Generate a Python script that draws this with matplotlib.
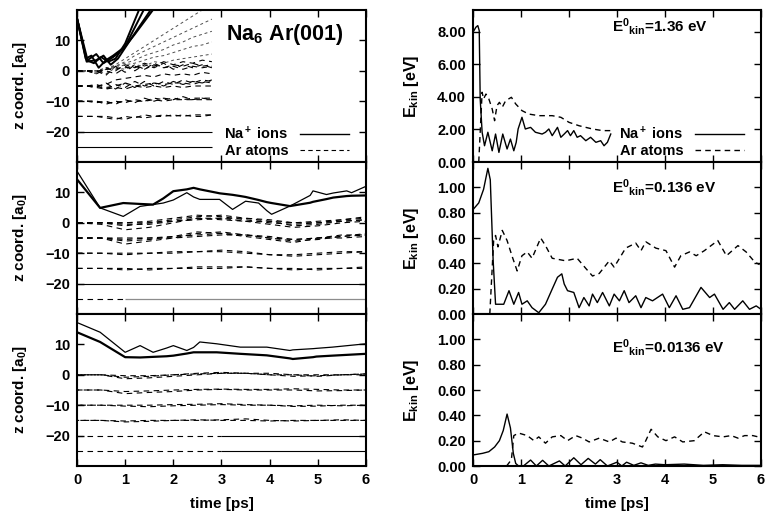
import matplotlib.pyplot as plt

plt.rcParams['font.family'] = ['Liberation Sans', 'DejaVu Sans']
plt.rcParams['font.weight'] = 'bold'
plt.rcParams['font.size'] = 10
plt.rcParams['mathtext.fontset'] = 'custom'
plt.rcParams['mathtext.rm'] = 'Liberation Sans:bold'
plt.rcParams['mathtext.it'] = 'Liberation Sans:bold'
plt.rcParams['mathtext.bf'] = 'Liberation Sans:bold'

# ---------------- z trajectories (left column) ----------------
# E0 = 1.36 eV run, ends at 2.8 ps
t_fast = [0.0, 0.2, 0.4, 0.6, 0.8, 1.0, 1.2, 1.4, 1.6, 1.8, 2.0, 2.2, 2.4, 2.6, 2.8]
na_fast = [
    ([0.0, 0.2, 0.35, 0.5, 0.65, 0.8, 1.0, 1.3], [17.3, 3.5, 2.5, 4.5, 3.0, 4.0, 9.0, 20.5]),
    ([0.0, 0.18, 0.3, 0.45, 0.6, 0.75, 1.0, 1.4], [17.3, 4.0, 5.0, 1.0, 3.5, 5.0, 8.0, 20.5]),
    ([0.0, 0.2, 0.4, 0.55, 0.7, 0.85, 1.1, 1.55], [17.3, 3.0, 3.5, 5.0, 2.0, 4.0, 10.0, 20.5]),
    ([0.0, 0.22, 0.4, 0.55, 0.75, 0.95, 1.2, 1.6], [17.3, 3.5, 5.5, 2.5, 4.5, 7.0, 12.0, 20.5]),
]
ar_fast_up = [
    [0, 0, 0, 0.5, 2, 4, 6, 8, 10, 12, 14, 16, 18, 20, 22],
    [0, 0, -0.5, 0.5, 1.5, 3, 5, 6.5, 8, 9.5, 11, 12.5, 14, 15.5, 17],
    [0, 0, 0, 1, 1.5, 2.5, 3.5, 5, 6, 7, 8.5, 9.5, 11, 12, 13],
    [0, 0, -1, 0.5, 1, 2, 2.5, 3.5, 4.5, 5, 6, 7, 8, 8.5, 9.5],
    [0, 0, 0, -1, 1, 0.5, 2, 1.5, 3, 2.5, 3.5, 4, 4.5, 5, 5.5],
]
ar_fast = [
    [0, 0, -0.5, 1, 0, 2, 1, 2.5, 1.5, 3, 2, 3, 2.5, 3.5, 3],
    [0, 0, 0, -1.5, 1.5, -0.5, 2, 0.5, 2.5, 1, 2, 1.5, 2.5, 1.5, 2],
    [0, 0, -1, 0.5, 0.5, 1.5, 0, 2, 1, 2.5, 0.5, 2, 1, 2, 1],
    [0, 0, 0, 0, -1, 1, 1.5, 0.5, 2, 1, 1.5, 0.5, 1.5, 1, 1.5],
    [-5, -5, -5.5, -4, -6, -4, -5.5, -3.5, -5, -3.5, -4.5, -3, -4, -3, -3.5],
    [-5, -5, -5, -6, -4.5, -5.5, -3.5, -5, -4, -5, -3.5, -4.5, -3.5, -4, -3],
    [-5, -5, -4.5, -5.5, -5, -4, -5, -4.5, -4, -4.5, -4, -4, -4.5, -3.5, -4],
    [-5, -5, -5, -4.5, -3, -2.5, -2, -1.5, -2, -1, -1.5, -1, -1.5, -0.5, -1],
    [-5, -5, -5.5, -6, -5.5, -6, -5, -5.5, -5, -5.5, -5, -5.5, -5, -5, -5],
    [-10, -10, -10, -11, -10, -10.5, -9.5, -10, -9, -9.5, -9, -9.5, -9, -9, -9],
    [-10, -10, -10.5, -10, -11, -9.5, -10.5, -9, -10, -9, -9.5, -8.5, -9.5, -9, -9.5],
    [-10, -10, -10, -10.5, -10.5, -10, -10, -10, -9.5, -10, -9.5, -9.5, -9.5, -9.5, -9.5],
    [-15, -15, -15, -15.5, -16, -15, -15.5, -14.5, -15, -15, -14.5, -15, -14.5, -14.5, -14.5],
    [-15, -15, -15, -15, -15.5, -16, -15, -15.5, -15, -14.5, -15, -14.5, -15, -15, -14.5],
]

# E0 = 0.136 eV run
t_mid_na = [0.0, 0.48, 0.96, 1.31, 1.58, 1.79, 2.0, 2.28, 2.42, 2.55, 2.9, 2.96, 3.23, 3.39, 3.5,
            3.77, 3.94, 4.04, 4.42, 4.84, 4.9, 5.18, 5.32, 5.6, 5.7, 6.0]
na_mid_thick = [14.3, 4.9, 6.5, 6.2, 6.0, 8.0, 10.4, 11.0, 11.5, 11.0, 9.9, 9.7, 9.2, 8.8, 8.5,
                7.5, 6.8, 6.5, 5.5, 6.6, 6.9, 7.8, 8.3, 8.8, 8.9, 9.0]
na_mid_thin = [17.0, 4.9, 2.1, 5.4, 6.0, 6.5, 7.5, 9.9, 8.5, 7.7, 7.7, 7.7, 4.4, 6.0, 7.1,
               6.5, 4.0, 2.8, 5.5, 9.0, 10.5, 9.3, 9.8, 10.5, 9.9, 12.0]

t_slow = [0.0, 0.5, 1.0, 1.5, 2.0, 2.5, 3.0, 3.5, 4.0, 4.5, 5.0, 5.5, 6.0]
ar_mid = [
    [0, -0.5, -2.3, -1.5, 0, 1.5, 1.5, 0.5, -0.5, -1.5, -1, 0, 0.5],
    [0, 0, -1, 0, 1, 2, 2.5, 1.5, 0.5, 0, 0.5, 1, 1.5],
    [0, 0, 0, 0.5, 1.5, 2.5, 2, 1, 0, -0.5, 0, 1, 2],
    [0, 0, -0.5, -0.5, 0.5, 1, 1.5, 1.5, 1, 0, 0, 0.5, 1],
    [0, 0, 0, 0, 0.5, 1.5, 1, 0.5, 0.5, -1, -0.5, 0.5, 1],
    [-5, -5, -7, -6, -5, -3.5, -3, -4, -5, -6, -5.5, -4.5, -4],
    [-5, -5, -6, -5.5, -4.5, -3, -3.5, -4.5, -5.5, -6.5, -5, -4.5, -3.5],
    [-5, -5, -5, -5, -4.5, -4, -3.5, -4, -4.5, -5.5, -5, -4, -4],
    [-5, -5, -5.5, -5, -5, -4.5, -4, -4, -5, -5.5, -5, -5, -4.5],
    [-10, -10, -10, -10, -10, -9.5, -9, -9.5, -10.5, -11, -10.5, -10, -9.5],
    [-10, -10, -10.5, -10, -9.5, -9.5, -9.5, -10, -10.5, -10.5, -10, -9.5, -9.5],
    [-15, -15, -15.5, -15, -15, -14.5, -14.5, -14.5, -15, -15.5, -15, -15, -15],
    [-15, -15, -15, -15.5, -15, -15, -15, -14.5, -15, -15, -15.5, -15, -14.5],
]

# E0 = 0.0136 eV run
t_low_na = [0.0, 0.48, 1.0, 1.31, 1.58, 1.86, 2.0, 2.28, 2.42, 2.55, 2.9, 3.39, 3.94, 4.42,
            4.48, 4.9, 4.97, 5.3, 6.0]
na_low_thin = [17.2, 14.0, 7.4, 9.6, 7.4, 8.8, 9.6, 8.0, 9.0, 10.8, 10.2, 9.1, 9.1, 8.0,
               8.2, 8.6, 8.7, 9.1, 10.2]
na_low_thick = [14.0, 10.8, 5.8, 5.7, 5.9, 6.1, 6.3, 7.0, 7.4, 7.4, 7.4, 6.9, 6.4, 5.4,
                5.2, 5.8, 6.0, 6.3, 6.9]
ar_low = [
    [0, 0, -1.3, -1, -0.5, 0, 0.5, 0.5, 0, 0, -0.5, 0, 0],
    [0, 0, -0.8, -0.5, 0, 0.5, 0.8, 0.5, 0.5, 0, 0, 0, 0.3],
    [0, 0, -0.3, -0.3, 0, 0.3, 0.5, 0.5, 0, -0.5, -0.3, 0, 0.3],
    [-5, -5, -6.2, -5.8, -5.5, -5, -4.8, -5, -5, -5, -5.3, -5.2, -5],
    [-5, -5, -5.5, -5.3, -5, -4.8, -4.7, -4.8, -4.8, -4.6, -4.8, -5, -5],
    [-10, -10, -10.3, -10.5, -10.2, -10, -9.8, -10, -10, -10.4, -10.3, -10, -10],
    [-10, -10, -10, -10, -9.8, -9.7, -9.5, -9.8, -10, -10.2, -10, -10.2, -10],
    [-15, -15, -15.5, -15.3, -15, -15, -14.8, -14.5, -15, -15.2, -15, -14.8, -15],
    [-15, -15, -15.2, -15, -15, -14.8, -15, -15, -15.2, -15, -15, -15, -15],
]
frozen_layers = [-20, -25]

# ---------------- kinetic energies (right column) ----------------
t_e1_na = [0.0, 0.06, 0.1, 0.13, 0.15, 0.19, 0.24, 0.31, 0.4, 0.47, 0.54, 0.62, 0.71, 0.78,
           0.85, 0.9, 0.94, 1.02, 1.09, 1.2, 1.3, 1.44, 1.51, 1.58, 1.65, 1.76, 1.83, 1.9,
           1.97, 2.03, 2.1, 2.17, 2.24, 2.35, 2.45, 2.56, 2.66, 2.73, 2.8, 2.87]
e1_na = [7.98, 8.29, 8.39, 8.08, 3.88, 1.83, 1.0, 1.83, 0.69, 1.72, 0.59, 1.72, 0.8, 1.41,
         0.69, 1.21, 2.03, 2.75, 2.03, 2.13, 1.83, 1.72, 1.83, 2.03, 1.62, 2.13, 1.52, 1.72,
         1.93, 1.62, 1.93, 1.52, 1.62, 1.31, 1.52, 1.21, 1.31, 1.0, 1.21, 1.72]
t_e1_ar = [0.12, 0.19, 0.22, 0.27, 0.33, 0.4, 0.45, 0.5, 0.55, 0.61, 0.68, 0.8, 0.89, 1.02,
           1.16, 1.37, 1.65, 1.83, 2.0, 2.21, 2.49, 2.7, 2.87]
e1_ar = [0.0, 4.29, 3.88, 4.18, 3.88, 3.26, 2.54, 3.47, 3.67, 3.37, 3.77, 3.98, 3.57, 3.16,
         2.95, 2.85, 2.85, 2.75, 2.44, 2.23, 2.03, 1.93, 1.93]

t_e2_na = [0.0, 0.12, 0.22, 0.31, 0.36, 0.42, 0.47, 0.64, 0.75, 0.85, 0.95, 1.02, 1.13, 1.23,
           1.37, 1.51, 1.65, 1.76, 1.85, 1.9, 1.97, 2.1, 2.21, 2.31, 2.42, 2.49, 2.59, 2.7,
           2.84, 2.94, 3.05, 3.15, 3.25, 3.39, 3.5, 3.6, 3.74, 3.95, 4.09, 4.23, 4.37, 4.51,
           4.75, 4.93, 5.03, 5.21, 5.34, 5.45, 5.62, 5.76, 5.9, 6.0]
e2_na = [0.824, 0.877, 0.984, 1.15, 1.06, 0.42, 0.077, 0.077, 0.184, 0.077, 0.17, 0.077,
         0.104, 0.05, 0.01, 0.077, 0.197, 0.29, 0.317, 0.237, 0.184, 0.17, 0.05, 0.13, 0.064,
         0.157, 0.09, 0.17, 0.064, 0.157, 0.104, 0.184, 0.09, 0.144, 0.05, 0.13, 0.104, 0.157,
         0.05, 0.144, 0.037, 0.05, 0.21, 0.13, 0.157, 0.037, 0.09, 0.037, 0.104, 0.037, 0.064,
         0.037]
t_e2_ar = [0.35, 0.43, 0.47, 0.52, 0.61, 0.71, 0.82, 0.92, 1.02, 1.13, 1.23, 1.41, 1.51, 1.65,
           1.93, 2.17, 2.35, 2.49, 2.63, 2.84, 2.94, 3.18, 3.39, 3.5, 3.6, 3.81, 4.02, 4.2,
           4.33, 4.51, 4.65, 4.82, 5.1, 5.28, 5.52, 5.69, 5.87, 5.97]
e2_ar = [0.0, 0.58, 0.62, 0.53, 0.66, 0.58, 0.45, 0.34, 0.46, 0.49, 0.44, 0.6, 0.54, 0.44,
         0.42, 0.44, 0.36, 0.3, 0.32, 0.42, 0.37, 0.52, 0.56, 0.5, 0.57, 0.52, 0.5, 0.37,
         0.46, 0.49, 0.46, 0.5, 0.58, 0.46, 0.54, 0.49, 0.41, 0.39]

t_e3_na = [0.0, 0.2, 0.33, 0.45, 0.55, 0.63, 0.71, 0.78, 0.84, 0.89, 0.95, 1.05, 1.2, 1.32,
           1.45, 1.58, 1.8, 1.92, 2.1, 2.25, 2.4, 2.55, 2.65, 2.8, 3.0, 3.1, 3.2, 3.35, 3.5,
           3.65, 3.8, 4.0, 4.4, 4.8, 5.2, 5.6, 6.0]
e3_na = [0.087, 0.1, 0.113, 0.15, 0.2, 0.28, 0.41, 0.3, 0.1, 0.02, 0.0, 0.0, 0.047, 0.0,
         0.045, 0.0, 0.04, 0.0, 0.065, 0.01, 0.06, 0.015, 0.05, 0.0, 0.03, 0.0, 0.03, 0.005,
         0.025, 0.005, 0.015, 0.01, 0.015, 0.005, 0.01, 0.005, 0.005]
t_e3_ar = [0.7, 0.8, 0.85, 0.95, 1.13, 1.27, 1.37, 1.51, 1.65, 1.83, 1.97, 2.14, 2.28, 2.42,
           2.63, 2.84, 2.98, 3.11, 3.32, 3.53, 3.6, 3.71, 3.85, 4.02, 4.2, 4.37, 4.61, 4.82,
           5.0, 5.21, 5.38, 5.52, 5.66, 5.83, 5.94]
e3_ar = [0.0, 0.05, 0.24, 0.26, 0.24, 0.2, 0.23, 0.18, 0.23, 0.24, 0.2, 0.24, 0.22, 0.19,
         0.22, 0.19, 0.22, 0.19, 0.18, 0.15, 0.2, 0.29, 0.23, 0.2, 0.23, 0.19, 0.2, 0.27,
         0.24, 0.23, 0.24, 0.22, 0.24, 0.24, 0.23]

energy_labels = ['1.36', '0.136', '0.0136']

# ---------------- figure ----------------
fig = plt.figure(figsize=(7.67, 5.14), dpi=100)
W, H = 767, 514
row_px = [(10, 162), (162, 314), (314, 466)]
left_px, right_px = (77, 366), (473, 761)


def make_ax(xr, yr):
    ax = fig.add_axes([xr[0] / W, 1 - yr[1] / H, (xr[1] - xr[0]) / W, (yr[1] - yr[0]) / H])
    for s in ax.spines.values():
        s.set_linewidth(1.5)
    ax.tick_params(direction='in', top=True, right=True, length=5, width=1,
                   labelsize=10.5, pad=5)
    ax.set_xlim(0, 6)
    ax.set_xticks([0, 1, 2, 3, 4, 5, 6])
    return ax


DASH = (0, (5, 4))
ar_kw = dict(color='black', lw=0.8, linestyle=DASH)

lax = [make_ax(left_px, r) for r in row_px]
rax = [make_ax(right_px, r) for r in row_px]

for ax in lax:
    ax.set_ylim(-30, 20)
    ax.set_yticks([-20, -10, 0, 10])
    ax.set_ylabel('z coord. [a$_0$]', fontsize=11, fontweight='bold')
    ax.yaxis.set_label_coords(-0.165, 0.5)

# top left: fast impact
ax = lax[0]
for z in ar_fast_up:
    ax.plot(t_fast, z, color='0.3', lw=0.7, linestyle=(0, (3, 3)))
for z in ar_fast:
    ax.plot(t_fast, z, **ar_kw)
for tt, z in na_fast:
    ax.plot(tt, z, color='black', lw=1.4)
ax.hlines(frozen_layers, 0, t_fast[-1], color='black', lw=0.8)
ax.plot([], [], color='black', lw=1.0, label='Na$^+$ ions')
ax.plot([], [], color='black', lw=0.8, linestyle=(0, (4, 3)), label='Ar atoms')
ax.legend(loc='lower right', bbox_to_anchor=(0.97, -0.03), frameon=False, markerfirst=False,
          handlelength=3.3, labelspacing=0.1, borderaxespad=0.2, fontsize=10.5)
ax.text(0.72, 0.84, 'Na$_6$ Ar(001)', transform=ax.transAxes, ha='center', va='center',
        fontsize=15.5, fontweight='bold')

# middle left
ax = lax[1]
for z in ar_mid:
    ax.plot(t_slow, z, **ar_kw)
ax.plot(t_mid_na, na_mid_thick, color='black', lw=1.6)
ax.plot(t_mid_na, na_mid_thin, color='black', lw=0.9)
ax.hlines(frozen_layers[0], 0, 6, color='black', lw=0.8)
ax.hlines(frozen_layers[1], 0, 1.0, color='black', lw=0.8, linestyle=DASH)
ax.hlines(frozen_layers[1], 1.0, 6, color='0.55', lw=0.9)

# bottom left
ax = lax[2]
for i, z in enumerate(ar_low):
    ax.plot(t_slow, z, color='black', lw=0.8, linestyle=(i * 3, (5, 4)))
ax.plot(t_low_na, na_low_thin, color='black', lw=0.9)
ax.plot(t_low_na, na_low_thick, color='black', lw=1.6)
ax.hlines(frozen_layers, 0, 3, color='black', lw=0.8, linestyle=DASH)
ax.hlines(frozen_layers, 3, 6, color='black', lw=0.8)

# right column
rax[0].plot(t_e1_na, e1_na, color='black', lw=1.0, label='Na$^+$ ions')
rax[0].plot(t_e1_ar, e1_ar, color='black', lw=1.0, linestyle=(0, (4, 3)), label='Ar atoms')
rax[0].set_ylim(0, 9.35)
rax[0].set_yticks([0, 2, 4, 6, 8])
rax[0].legend(loc='lower right', bbox_to_anchor=(0.97, -0.03), frameon=False,
              markerfirst=False, handlelength=3.3, labelspacing=0.1, borderaxespad=0.2,
              fontsize=10.5)

rax[1].plot(t_e2_na, e2_na, color='black', lw=1.0)
rax[1].plot(t_e2_ar, e2_ar, color='black', lw=1.0, linestyle=(0, (4, 3)))
rax[2].plot(t_e3_na, e3_na, color='black', lw=1.0)
rax[2].plot(t_e3_ar, e3_ar, color='black', lw=1.0, linestyle=(0, (4, 3)))
for ax in rax[1:]:
    ax.set_ylim(0, 1.2)
    ax.set_yticks([0, 0.2, 0.4, 0.6, 0.8, 1.0])

label_y = [0.89, 0.83, 0.78]
for ax, lab, y in zip(rax, energy_labels, label_y):
    ax.yaxis.set_major_formatter(plt.FormatStrFormatter('%.2f'))
    ax.set_ylabel('E$_{kin}$ [eV]', fontsize=11.5, fontweight='bold')
    ax.yaxis.set_label_coords(-0.18, 0.5)
    ax.text(0.483, y, 'E$^0$$_{kin}$=' + lab + ' eV', transform=ax.transAxes,
            ha='left', va='center', fontsize=11, fontweight='bold')

for ax in lax[:2] + rax[:2]:
    ax.set_xticklabels([])
for ax in (lax[2], rax[2]):
    ax.set_xlabel('time [ps]', fontsize=11, fontweight='bold', labelpad=7)

fig.savefig('out.png', dpi=100)
